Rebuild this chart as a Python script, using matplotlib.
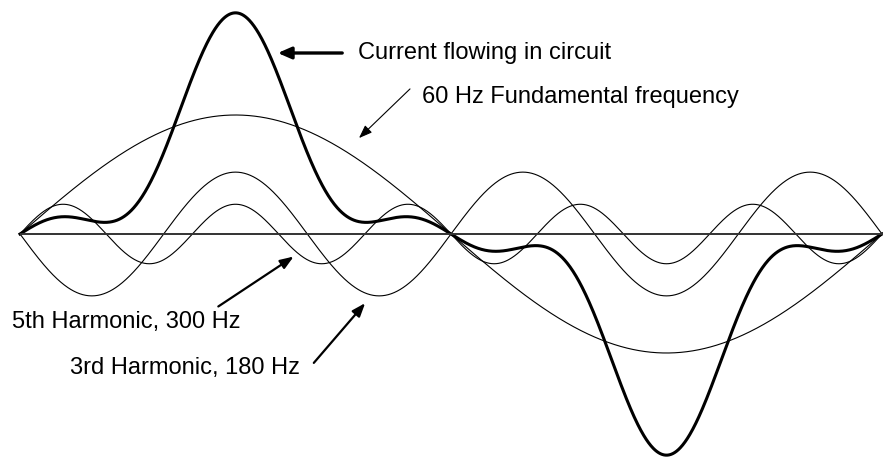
import numpy as np
import matplotlib.pyplot as plt

# harmonic content (amplitude relative to the 60 Hz wave)
harmonics = [1, 3, 5]
amplitudes = [1.0, 0.52, 0.25]
signs = [1, -1, 1]          # 3rd harmonic is inverted (peaks with the fundamental)
current_gain = 1.05         # drawn current is a bit taller than the plain sum

labels = ['Current flowing in circuit', '60 Hz Fundamental frequency',
          '5th Harmonic, 300 Hz', '3rd Harmonic, 180 Hz']

W, H = 883, 458
plt.rcParams['font.family'] = ['Liberation Sans', 'DejaVu Sans']

fig = plt.figure(figsize=(W / 100, H / 100), dpi=100)
ax = fig.add_axes([0, 0, 1, 1])
ax.axis('off')

deg = np.linspace(0, 360, 1441)
rad = np.deg2rad(deg)
waves = [s * a * np.sin(n * rad) for n, a, s in zip(harmonics, amplitudes, signs)]
current = current_gain * np.sum(waves, axis=0)

for w in waves:
    ax.plot(deg, w, color='black', lw=0.8)
ax.plot(deg, current, color='black', lw=2.2)

# pixel layout: 0 deg at x=20, 360 deg at x=882, baseline at y=234, 1 unit = 119 px
px_per_deg = 862 / 360
ax.set_xlim(-20 / px_per_deg, (W - 20) / px_per_deg)
ax.set_ylim(-(H - 234) / 119, 234 / 119)
ax.hlines(0, 0, (W - 20) / px_per_deg, color='#333333', lw=1.4)


def px(x, y):
    return (x, H - y)


fs = 17
ax.annotate('', xy=px(275, 53), xytext=px(345, 53), xycoords='figure pixels',
            arrowprops=dict(arrowstyle='-|>,head_length=0.8,head_width=0.35',
                            color='black', lw=2.4))
ax.text(*px(358, 53), labels[0], transform=None, fontsize=fs, va='center', ha='left')

ax.annotate('', xy=px(357, 140), xytext=px(412, 87), xycoords='figure pixels',
            arrowprops=dict(arrowstyle='-|>,head_length=0.8,head_width=0.3',
                            color='black', lw=0.8))
ax.text(*px(422, 97), labels[1], transform=None, fontsize=fs, va='center', ha='left')

ax.annotate('', xy=px(296, 255), xytext=px(216, 308), xycoords='figure pixels',
            arrowprops=dict(arrowstyle='-|>,head_length=0.8,head_width=0.3',
                            color='black', lw=1.6))
ax.text(*px(12, 322), labels[2], transform=None, fontsize=fs, va='center', ha='left')

ax.annotate('', xy=px(367, 301), xytext=px(312, 365), xycoords='figure pixels',
            arrowprops=dict(arrowstyle='-|>,head_length=0.8,head_width=0.3',
                            color='black', lw=1.6))
ax.text(*px(70, 368), labels[3], transform=None, fontsize=fs, va='center', ha='left')

fig.savefig('out.png', dpi=100, facecolor='white')
